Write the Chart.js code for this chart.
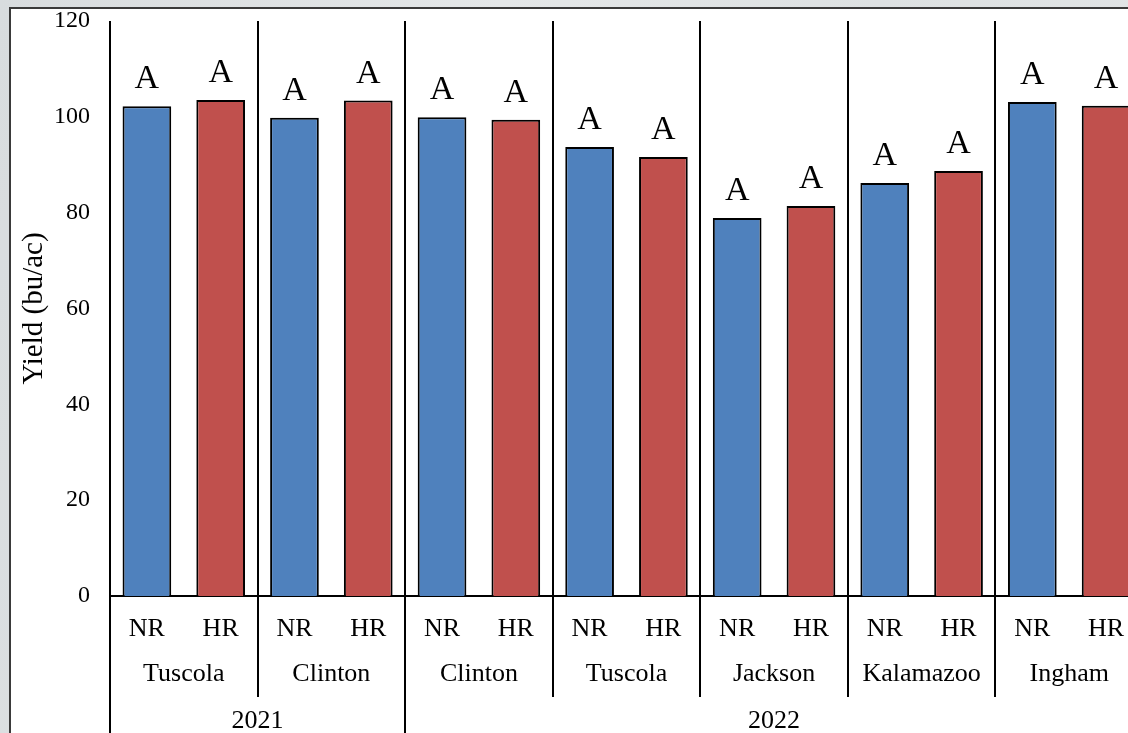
<!DOCTYPE html>
<html>
<head>
<meta charset="utf-8">
<script src="https://cdn.jsdelivr.net/npm/chart.js@4.4.0/dist/chart.umd.min.js"></script>
<style>
  html, body { margin: 0; padding: 0; width: 1128px; height: 733px; overflow: hidden; }
  body { background: linear-gradient(100deg, #d8dcde 0%, #e4e7e8 40%, #dde1e2 70%, #e2e5e6 100%); position: relative; }
  #frame { position: absolute; left: 9px; top: 7px; width: 1200px; height: 800px; background: #fff; border: 2px solid #3a3a3a; }
  #wrap { position: absolute; left: 0; top: 0; width: 1160px; height: 733px; }
</style>
</head>
<body>
<div id="frame"></div>
<div id="wrap"><canvas id="chart"></canvas></div>
<script>
const treatments = ["NR", "HR"];
const sites = ["Tuscola", "Clinton", "Clinton", "Tuscola", "Jackson", "Kalamazoo", "Ingham"];
const yearLabels = ["2021", "2022"];
const yearSpans = [2, 5];
const nrYield = [102.2, 99.8, 99.9, 93.7, 78.9, 86.2, 103.1];
const hrYield = [103.5, 103.4, 99.4, 91.6, 81.4, 88.7, 102.3];
const nrLetters = ["A", "A", "A", "A", "A", "A", "A"];
const hrLetters = ["A", "A", "A", "A", "A", "A", "A"];
const yTicks = [0, 20, 40, 60, 80, 100, 120];

const BLUE = "#4f81bd";
const RED = "#c0504d";
const SERIF = "'Liberation Serif', 'Times New Roman', serif";

// one bar per treatment per site
const labels = [];
const values = [];
const colores = [];
const letras = [];
sites.forEach((s, i) => {
  labels.push(treatments[0], treatments[1]);
  values.push(nrYield[i], hrYield[i]);
  colores.push(BLUE, RED);
  letras.push(nrLetters[i], hrLetters[i]);
});

const pluginEjes = {
  id: "ejesAgrupados",
  afterDraw(chart) {
    const { ctx, chartArea, scales } = chart;
    const x = scales.x;
    const paso = x.getPixelForValue(1) - x.getPixelForValue(0);
    const borde = k => x.getPixelForValue(k) - paso / 2;
    const alto = chart.height;

    // year boundaries (in site groups)
    const cortesAnio = [0];
    yearSpans.forEach(n => cortesAnio.push(cortesAnio[cortesAnio.length - 1] + n));

    ctx.save();
    ctx.strokeStyle = "#000";
    ctx.lineWidth = 2;
    for (let g = 0; g <= sites.length; g++) {
      const px = Math.round(borde(g * 2));
      const fin = cortesAnio.includes(g) ? alto : 697;
      ctx.beginPath();
      ctx.moveTo(px, chartArea.top);
      ctx.lineTo(px, fin);
      ctx.stroke();
    }

    ctx.fillStyle = "#000";
    ctx.textAlign = "center";
    ctx.textBaseline = "middle";
    ctx.font = "26px " + SERIF;
    labels.forEach((t, i) => ctx.fillText(t, x.getPixelForValue(i), 629));
    sites.forEach((s, g) => ctx.fillText(s, (borde(g * 2) + borde(g * 2 + 2)) / 2, 674));
    yearLabels.forEach((yv, k) => {
      const a = borde(cortesAnio[k] * 2);
      const b = borde(cortesAnio[k + 1] * 2);
      ctx.fillText(yv, (a + b) / 2, 721);
    });

    // significance letters
    ctx.font = "34px " + SERIF;
    ctx.textBaseline = "alphabetic";
    chart.getDatasetMeta(0).data.forEach((bar, i) => {
      ctx.fillText(letras[i], bar.x, bar.y - 18);
    });
    ctx.restore();
  }
};

new Chart(document.getElementById("chart"), {
  type: "bar",
  data: {
    labels,
    datasets: [{
      data: values,
      backgroundColor: colores,
      borderColor: "#000",
      borderWidth: 2,
      categoryPercentage: 1,
      barPercentage: 0.66
    }]
  },
  options: {
    responsive: true,
    maintainAspectRatio: false,
    animation: false,
    layout: { padding: { top: 21, right: 17, left: 0, bottom: 0 } },
    plugins: { legend: { display: false }, tooltip: { enabled: false } },
    scales: {
      x: {
        ticks: { display: false },
        grid: { display: false },
        border: { display: true, color: "#000", width: 2 },
        afterFit: s => { s.height = 137; s.paddingLeft = 0; s.paddingRight = 0; }
      },
      y: {
        min: 0,
        max: 120,
        afterBuildTicks: s => { s.ticks = yTicks.map(v => ({ value: v })); },
        ticks: { font: { family: SERIF, size: 24 }, color: "#000", padding: 20 },
        grid: { display: false, drawTicks: false },
        border: { display: false },
        title: {
          display: true,
          text: "Yield (bu/ac)",
          font: { family: SERIF, size: 29 },
          color: "#000",
          padding: { top: 17, bottom: 0 }
        },
        afterFit: s => { s.width = 110; s.paddingTop = 0; s.paddingBottom = 0; }
      }
    }
  },
  plugins: [pluginEjes]
});
</script>
</body>
</html>
